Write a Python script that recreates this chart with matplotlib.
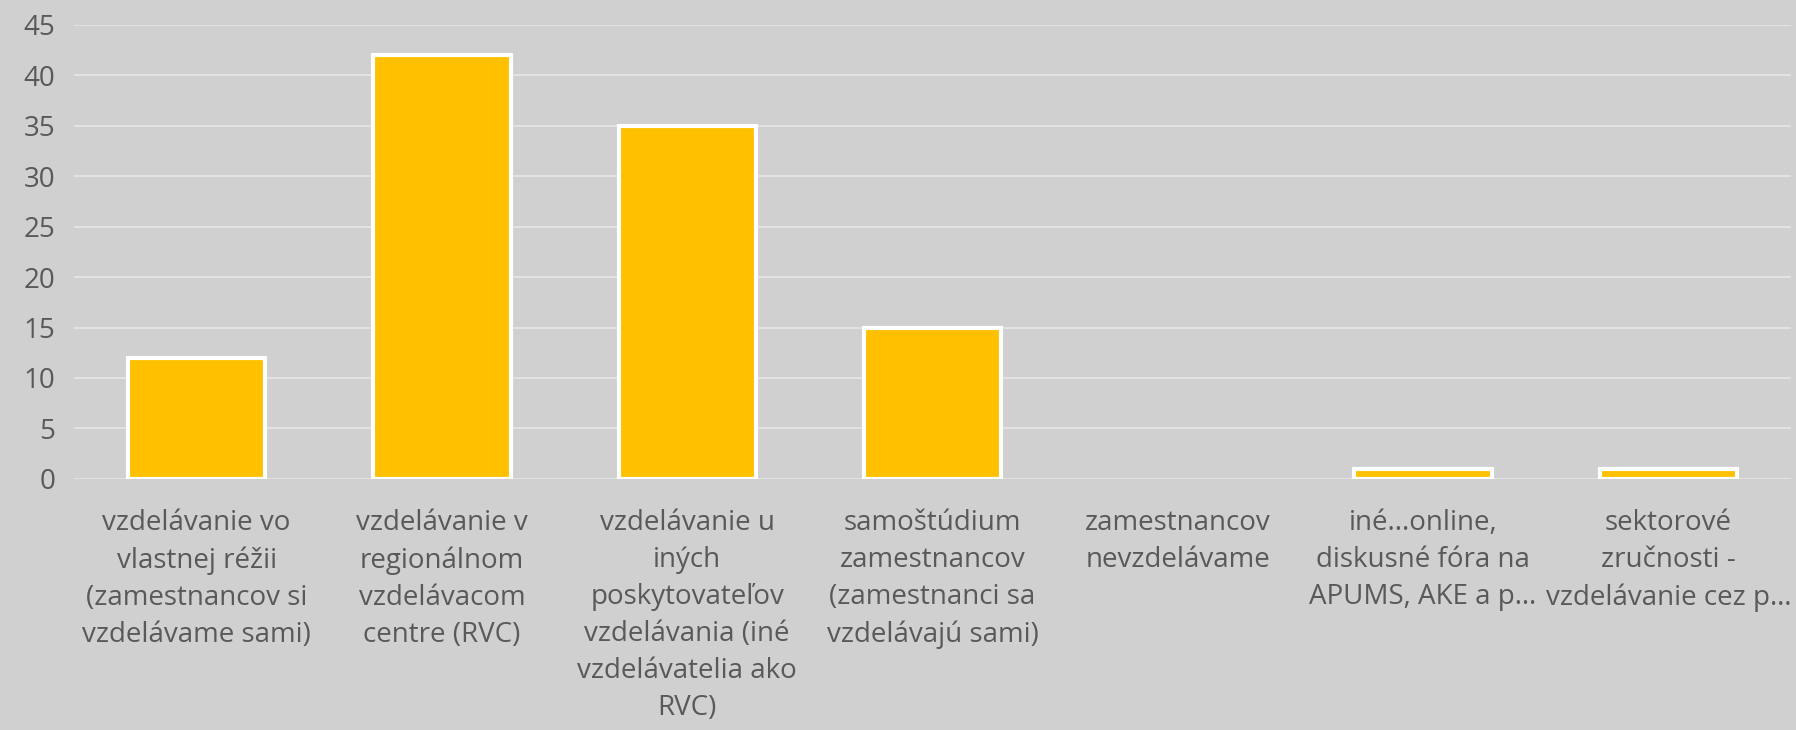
import matplotlib
matplotlib.use("Agg")
import matplotlib.pyplot as plt

categories = [
    "vzdelávanie vo\nvlastnej réžii\n(zamestnancov si\nvzdelávame sami)",
    "vzdelávanie v\nregionálnom\nvzdelávacom\ncentre (RVC)",
    "vzdelávanie u\niných\nposkytovateľov\nvzdelávania (iné\nvzdelávatelia ako\nRVC)",
    "samoštúdium\nzamestnancov\n(zamestnanci sa\nvzdelávajú sami)",
    "zamestnancov\nnevzdelávame",
    "iné...online,\ndiskusné fóra na\nAPUMS, AKE a p…",
    "sektorové\nzručnosti -\nvzdelávanie cez p…",
]
values = [12, 42, 35, 15, 0, 1, 1]
yticks = [0, 5, 10, 15, 20, 25, 30, 35, 40, 45]

BG = "#D0D0D0"
TXT = "#595959"
plt.rcParams["font.family"] = ["Open Sans", "DejaVu Sans"]

fig = plt.figure(figsize=(17.96, 7.30), dpi=100, facecolor=BG)
ax = fig.add_axes([0.0412, 0.344, 0.956, 0.622], facecolor=BG)

x = list(range(len(categories)))
edges = ["white" if v > 0 else "none" for v in values]
ax.bar(x, values, width=0.56, color="#FFC000", edgecolor=edges, linewidth=3, zorder=3)

ax.set_xlim(-0.5, len(categories) - 0.5)
ax.set_ylim(0, 45)
ax.set_yticks(yticks)
ax.set_yticklabels([str(v) for v in yticks], fontsize=20, color=TXT)
ax.set_xticks(x)
ax.set_xticklabels(categories, fontsize=20, color=TXT, linespacing=1.42, va="top", ha="center")
ax.tick_params(axis="both", length=0)
ax.tick_params(axis="x", pad=22)
ax.tick_params(axis="y", pad=13.5)
ax.grid(axis="y", color="#E2E2E2", linewidth=1.5, zorder=0)
ax.set_axisbelow(True)
for s in ax.spines.values():
    s.set_visible(False)

fig.savefig("out.png", dpi=100, facecolor=BG)
